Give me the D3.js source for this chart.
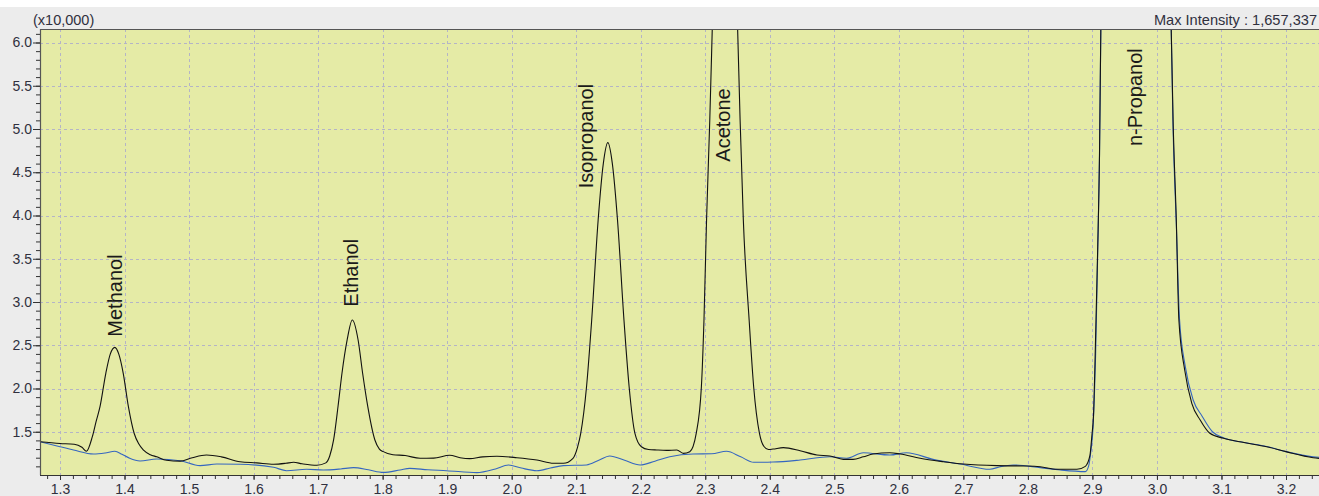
<!DOCTYPE html>
<html>
<head>
<meta charset="utf-8">
<script src="https://cdn.jsdelivr.net/npm/d3@7"></script>
<style>
  body { margin: 0; background: #ececec; }
  text { font-family: "Liberation Sans", Arial, sans-serif; }
</style>
</head>
<body>
<svg id="chart" width="1319" height="496"></svg>
<script>
// retention time (min) / intensity (x10,000)
var sampleTime = [1.269,1.300,1.322,1.334,1.341,1.350,1.356,1.362,1.371,1.378,1.385,1.391,1.398,1.406,1.415,1.422,1.429,1.440,1.450,1.465,1.486,1.505,1.527,1.550,1.579,1.605,1.631,1.650,1.662,1.675,1.698,1.712,1.718,1.724,1.731,1.737,1.745,1.753,1.762,1.769,1.777,1.788,1.795,1.801,1.816,1.835,1.858,1.879,1.904,1.920,1.935,1.955,1.977,2.008,2.039,2.065,2.080,2.095,2.102,2.107,2.116,2.124,2.134,2.142,2.149,2.156,2.164,2.174,2.182,2.191,2.201,2.212,2.225,2.240,2.256,2.266,2.276,2.286,2.294,2.298,2.302,2.307,2.311,2.318,2.330,2.342,2.350,2.354,2.359,2.368,2.375,2.384,2.391,2.398,2.405,2.421,2.447,2.473,2.493,2.514,2.529,2.545,2.560,2.586,2.602,2.633,2.669,2.700,2.752,2.798,2.819,2.845,2.876,2.889,2.896,2.899,2.902,2.904,2.908,2.911,2.913,2.930,2.960,2.995,3.022,3.025,3.030,3.034,3.043,3.054,3.067,3.082,3.103,3.135,3.170,3.200,3.242,3.270]
var sampleInt  = [1.385,1.365,1.355,1.320,1.275,1.440,1.620,1.790,2.176,2.400,2.476,2.400,2.176,1.790,1.480,1.360,1.290,1.235,1.210,1.170,1.160,1.200,1.231,1.210,1.154,1.140,1.124,1.135,1.147,1.130,1.112,1.140,1.220,1.405,1.800,2.176,2.561,2.792,2.561,2.176,1.790,1.405,1.300,1.270,1.235,1.225,1.193,1.195,1.228,1.200,1.189,1.210,1.216,1.200,1.173,1.135,1.135,1.193,1.320,1.482,2.021,2.792,3.948,4.600,4.842,4.600,3.948,2.792,2.021,1.482,1.327,1.295,1.289,1.285,1.289,1.250,1.270,1.482,2.021,2.792,3.948,5.104,6.200,8.000,9.400,8.000,6.200,5.104,3.948,2.792,2.021,1.482,1.330,1.295,1.300,1.316,1.281,1.231,1.220,1.181,1.181,1.210,1.243,1.258,1.243,1.193,1.154,1.127,1.108,1.104,1.096,1.066,1.066,1.100,1.220,1.443,1.750,2.300,3.563,4.719,6.140,40.00,165.7,40.00,6.200,5.104,3.948,2.792,2.214,1.829,1.636,1.482,1.424,1.375,1.327,1.270,1.200,1.180]

var blankTime = [1.269,1.300,1.321,1.352,1.370,1.385,1.396,1.408,1.424,1.450,1.486,1.517,1.543,1.579,1.631,1.651,1.682,1.708,1.735,1.755,1.778,1.801,1.827,1.842,1.870,1.899,1.946,1.975,1.995,2.015,2.039,2.060,2.080,2.116,2.135,2.152,2.175,2.199,2.222,2.245,2.281,2.310,2.333,2.355,2.375,2.405,2.447,2.493,2.519,2.545,2.586,2.612,2.653,2.695,2.741,2.757,2.777,2.819,2.850,2.889,2.894,2.898,2.901,2.903,2.905,2.908,2.911,2.913,2.930,2.960,2.995,3.022,3.025,3.030,3.035,3.044,3.056,3.070,3.086,3.103,3.135,3.170,3.200,3.242,3.270]
var blankInt  = [1.385,1.327,1.289,1.243,1.255,1.274,1.240,1.193,1.162,1.185,1.165,1.108,1.127,1.124,1.089,1.050,1.066,1.058,1.070,1.085,1.060,1.030,1.058,1.077,1.060,1.050,1.027,1.070,1.116,1.080,1.050,1.080,1.108,1.116,1.170,1.220,1.170,1.116,1.160,1.211,1.243,1.245,1.274,1.210,1.147,1.150,1.173,1.211,1.193,1.258,1.231,1.258,1.181,1.127,1.066,1.096,1.116,1.085,1.058,1.039,1.100,1.300,1.550,1.900,2.400,3.500,4.700,6.140,40.00,165.7,40.00,6.200,5.000,3.900,2.800,2.250,1.870,1.680,1.500,1.430,1.375,1.330,1.270,1.210,1.200]

var peakNames = ["Methanol", "Ethanol", "Isopropanol", "Acetone", "n-Propanol"]
var labelTime = [1.3956, 1.7623, 2.1265, 2.338, 2.9767]
var labelInt  = [2.599, 2.946, 4.314, 4.622, 4.803]

var xTicks = [1.3,1.4,1.5,1.6,1.7,1.8,1.9,2.0,2.1,2.2,2.3,2.4,2.5,2.6,2.7,2.8,2.9,3.0,3.1,3.2]
var yTicks = [1.5,2.0,2.5,3.0,3.5,4.0,4.5,5.0,5.5,6.0]

var svg = d3.select("#chart")
var plot = { left: 40, top: 29, right: 1330, bottom: 475 }

var x = d3.scaleLinear().domain([1.3, 3.2]).range([60, 1286])
var y = d3.scaleLinear().domain([1.0, 6.0]).range([475, 42.5])

// background bands
svg.append("rect").attr("width", 1319).attr("height", 496).attr("fill", "#ececec")
svg.append("rect").attr("width", 1319).attr("height", 7).attr("fill", "#ffffff")

svg.append("rect")
    .attr("x", plot.left).attr("y", plot.top)
    .attr("width", plot.right - plot.left).attr("height", plot.bottom - plot.top)
    .attr("fill", "#e5eba6")

svg.append("clipPath").attr("id", "clip")
    .append("rect")
    .attr("x", plot.left).attr("y", plot.top)
    .attr("width", plot.right - plot.left).attr("height", plot.bottom - plot.top)

// dashed grid
var grid = svg.append("g").attr("stroke", "#b4b4c6").attr("stroke-dasharray", "3,3").attr("stroke-width", 1)
grid.selectAll(".vx").data(xTicks).enter().append("line")
    .attr("x1", d => Math.round(x(d)) + 0.5).attr("x2", d => Math.round(x(d)) + 0.5)
    .attr("y1", plot.top).attr("y2", plot.bottom)
grid.selectAll(".hy").data(yTicks).enter().append("line")
    .attr("y1", d => Math.round(y(d)) + 0.5).attr("y2", d => Math.round(y(d)) + 0.5)
    .attr("x1", plot.left).attr("x2", plot.right)

// traces
var g = svg.append("g").attr("clip-path", "url(#clip)")
var line = d3.line().x(d => x(d[0])).y(d => y(d[1])).curve(d3.curveMonotoneX)

g.append("path")
    .datum(d3.zip(blankTime, blankInt))
    .attr("fill", "none").attr("stroke", "#3566c0").attr("stroke-width", 1.1)
    .attr("d", line)

g.append("path")
    .datum(d3.zip(sampleTime, sampleInt))
    .attr("fill", "none").attr("stroke", "#111111").attr("stroke-width", 1.1)
    .attr("d", line)

// peak labels
svg.append("g").selectAll("text")
    .data(peakNames).enter().append("text")
    .attr("transform", (d, i) => `translate(${x(labelTime[i])},${y(labelInt[i])}) rotate(-90)`)
    .attr("font-size", 20)
    .attr("fill", "#1a1a1a")
    .text(d => d)

// frame
svg.append("path")
    .attr("d", `M${plot.left + 0.5},${plot.bottom}V${plot.top + 0.5}H${plot.right}`)
    .attr("fill", "none").attr("stroke", "#555555").attr("stroke-width", 1.2)
svg.append("line")
    .attr("x1", plot.left).attr("x2", plot.right)
    .attr("y1", plot.bottom + 0.5).attr("y2", plot.bottom + 0.5)
    .attr("stroke", "#333333")

// y axis: major + minor ticks
var yAxis = svg.append("g").attr("transform", `translate(${plot.left},0)`)
yAxis.call(d3.axisLeft(y).tickValues(yTicks).tickSize(7).tickPadding(1).tickFormat(d3.format(".1f")))
yAxis.append("g").call(d3.axisLeft(y).tickValues(d3.range(1.1, 6.15, 0.1)).tickSize(4).tickFormat(""))
yAxis.selectAll(".domain").remove()
yAxis.selectAll("line").attr("stroke", "#333333")
yAxis.selectAll("text").attr("font-size", 14).attr("fill", "#30303e")
    .attr("font-family", "'Liberation Sans', Arial, sans-serif")

// x axis
var xAxis = svg.append("g").attr("transform", `translate(0,${plot.bottom})`)
xAxis.call(d3.axisBottom(x).tickValues(xTicks).tickSize(5).tickFormat(d3.format(".1f")))
xAxis.append("g").call(d3.axisBottom(x).tickValues(d3.range(1.28, 3.27, 0.02)).tickSize(4).tickFormat(""))
xAxis.selectAll(".domain").remove()
xAxis.selectAll("line").attr("stroke", "#333333")
xAxis.selectAll("text").attr("font-size", 14).attr("fill", "#30303e")
    .attr("y", 19).attr("dy", null)
    .attr("font-family", "'Liberation Sans', Arial, sans-serif")

// header texts
svg.append("text").attr("x", 33).attr("y", 25).attr("font-size", 14.5).attr("fill", "#30303e").text("(x10,000)")
svg.append("text").attr("x", 1317).attr("y", 25).attr("text-anchor", "end")
    .attr("font-size", 14.6).attr("fill", "#30303e").text("Max Intensity : 1,657,337")
</script>
</body>
</html>
